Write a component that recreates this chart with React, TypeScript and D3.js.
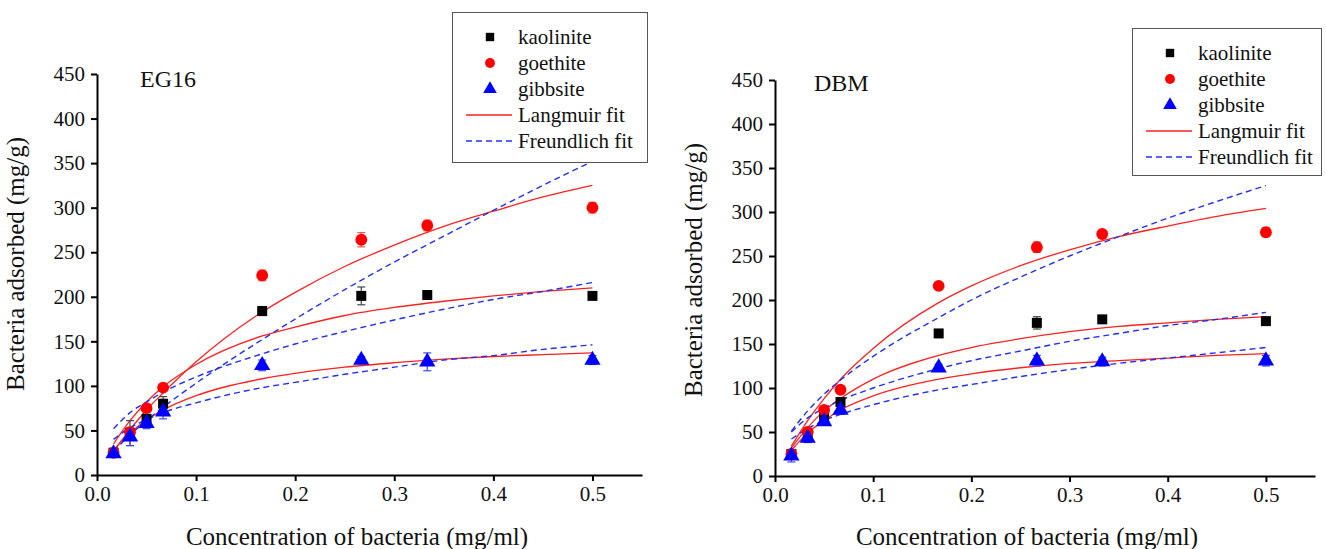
import { useEffect, useRef } from 'react';
import * as d3 from 'd3';

// measured concentrations (mg/ml) and the grid the fitted curves were read on
const conc = [0.0167, 0.0333, 0.05, 0.0667, 0.1667, 0.2667, 0.3333, 0.5];
const fitConc = [0.0167, 0.0333, 0.05, 0.0667, 0.1, 0.1667, 0.2, 0.25, 0.3, 0.35, 0.4, 0.45, 0.5];
const yTicks = [0, 50, 100, 150, 200, 250, 300, 350, 400, 450];
const xTicks = [0, 0.1, 0.2, 0.3, 0.4, 0.5];
const minerals = ['kaolinite', 'goethite', 'gibbsite'];
const fitNames = ['Langmuir fit', 'Freundlich fit'];

// EG16
const eg16Kaolinite = [25, 47, 63, 80, 184, 201, 202, 201];
const eg16KaoliniteErr = [3, 14, 5, 8, 5, 10, 3, 3];
const eg16Goethite = [25, 48, 75, 98, 224, 264, 280, 300];
const eg16GoethiteErr = [3, 4, 4, 4, 6, 8, 6, 6];
const eg16Gibbsite = [24, 43, 58, 71, 123, 129, 127, 129];
const eg16GibbsiteErr = [4, 10, 6, 8, 6, 4, 10, 5];
const eg16LangKaolinite = [35, 61, 82, 99, 124, 156, 166, 179, 188, 195, 201, 206, 210];
const eg16LangGoethite = [27, 51, 73, 92, 127, 183, 205, 234, 258, 279, 296, 312, 325];
const eg16LangGibbsite = [28, 47, 62, 73, 89, 108, 114, 121, 126, 130, 133, 135, 137];
const eg16FreuKaolinite = [52, 70, 82, 93, 110, 136, 147, 161, 174, 186, 197, 206, 216];
const eg16FreuGoethite = [26, 45, 61, 76, 103, 152, 175, 208, 239, 268, 297, 325, 352];
const eg16FreuGibbsite = [40, 53, 62, 70, 81, 98, 104, 113, 121, 129, 134, 141, 146];

// DBM
const dbmKaolinite = [25, 45, 66, 84, 162, 174, 178, 176];
const dbmKaoliniteErr = [3, 3, 4, 5, 3, 7, 3, 3];
const dbmGoethite = [25, 50, 75, 98, 216, 260, 275, 277];
const dbmGoethiteErr = [3, 3, 4, 4, 3, 6, 3, 5];
const dbmGibbsite = [23, 43, 62, 75, 123, 131, 130, 131];
const dbmGibbsiteErr = [7, 5, 4, 5, 4, 6, 5, 6];
const dbmLangKaolinite = [32, 55, 74, 88, 110, 137, 146, 156, 164, 170, 174, 178, 181];
const dbmLangGoethite = [34, 63, 88, 110, 145, 197, 216, 239, 257, 272, 284, 295, 304];
const dbmLangGibbsite = [29, 49, 63, 75, 91, 110, 116, 123, 128, 131, 134, 137, 139];
const dbmFreuKaolinite = [50, 66, 77, 86, 100, 122, 131, 142, 153, 162, 171, 178, 186];
const dbmFreuGoethite = [51, 74, 93, 109, 136, 180, 200, 226, 250, 272, 293, 312, 330];
const dbmFreuGibbsite = [42, 54, 63, 70, 81, 98, 104, 113, 121, 128, 134, 140, 146];

const FONT = '"Liberation Serif", "Times New Roman", Times, serif';
const markerColor = ['#000000', '#ff0000', '#0000ff'];
const errColor = ['#444444', '#ff5555', '#4444ff'];
const symbols = [d3.symbolSquare, d3.symbolCircle, d3.symbolTriangle];
const symbolSize = [100, 110, 115];

type PanelSpec = {
  label: string;
  left: number;
  right: number;
  top: number;
  bottom: number;
  labelX: number;
  labelY: number;
  titleX: number;
  titleY: number;
  legend: { x: number; y: number; w: number; h: number };
  points: number[][];
  errors: number[][];
  lang: number[][];
  freu: number[][];
};

const panels: PanelSpec[] = [
  {
    label: 'EG16', left: 97, right: 642, top: 74, bottom: 475, labelX: 140, labelY: 87,
    titleX: 357, titleY: 264,
    legend: { x: 452, y: 12, w: 195, h: 150 },
    points: [eg16Kaolinite, eg16Goethite, eg16Gibbsite],
    errors: [eg16KaoliniteErr, eg16GoethiteErr, eg16GibbsiteErr],
    lang: [eg16LangKaolinite, eg16LangGoethite, eg16LangGibbsite],
    freu: [eg16FreuKaolinite, eg16FreuGoethite, eg16FreuGibbsite],
  },
  {
    label: 'DBM', left: 775, right: 1315, top: 80, bottom: 476, labelX: 814, labelY: 91,
    titleX: 1027, titleY: 270,
    legend: { x: 1132, y: 28, w: 189, h: 147 },
    points: [dbmKaolinite, dbmGoethite, dbmGibbsite],
    errors: [dbmKaoliniteErr, dbmGoethiteErr, dbmGibbsiteErr],
    lang: [dbmLangKaolinite, dbmLangGoethite, dbmLangGibbsite],
    freu: [dbmFreuKaolinite, dbmFreuGoethite, dbmFreuGibbsite],
  },
];

function drawPanel(svg: d3.Selection<SVGSVGElement, unknown, null, undefined>, p: PanelSpec) {
  const x = d3.scaleLinear().domain([0, 0.55]).range([p.left, p.right]);
  const y = d3.scaleLinear().domain([0, 450]).range([p.bottom, p.top]);
  const g = svg.append('g');

  // axes
  const ya = g.append('g')
    .attr('transform', 'translate(' + p.left + ',0)')
    .call(d3.axisLeft(y).tickValues(yTicks).tickSize(6).tickSizeOuter(0).tickPadding(6).tickFormat(d3.format('d')));
  const xa = g.append('g')
    .attr('transform', 'translate(0,' + p.bottom + ')')
    .call(d3.axisBottom(x).tickValues(xTicks).tickSize(6).tickSizeOuter(0).tickPadding(5).tickFormat(d3.format('.1f')));
  [ya, xa].forEach(function (a) {
    a.attr('font-family', null).attr('font-size', null);
    a.style('font-family', FONT).style('font-size', '21px');
    a.select('.domain').attr('stroke-width', 2);
    a.selectAll('.tick line').attr('stroke-width', 2);
    a.selectAll('text').attr('fill', '#111');
  });

  // fitted curves
  const line = d3.line<number>()
    .x(function (_d, i) { return x(fitConc[i]); })
    .y(function (d) { return y(d); })
    .curve(d3.curveMonotoneX);
  p.lang.forEach(function (s) {
    g.append('path').attr('d', line(s)).attr('fill', 'none').attr('stroke', '#ff2020').attr('stroke-width', 1.3);
  });
  p.freu.forEach(function (s) {
    g.append('path').attr('d', line(s)).attr('fill', 'none').attr('stroke', '#2030ee')
      .attr('stroke-width', 1.4).attr('stroke-dasharray', '6,4');
  });

  // error bars and markers
  p.points.forEach(function (vals, k) {
    vals.forEach(function (v, i) {
      const cx = x(conc[i]);
      const e = p.errors[k][i];
      const eg = g.append('g').attr('stroke', errColor[k]).attr('stroke-width', 1.2);
      eg.append('line').attr('x1', cx).attr('x2', cx).attr('y1', y(v - e)).attr('y2', y(v + e));
      eg.append('line').attr('x1', cx - 4).attr('x2', cx + 4).attr('y1', y(v - e)).attr('y2', y(v - e));
      eg.append('line').attr('x1', cx - 4).attr('x2', cx + 4).attr('y1', y(v + e)).attr('y2', y(v + e));
    });
  });
  p.points.forEach(function (vals, k) {
    g.selectAll(null).data(vals).join('path')
      .attr('d', d3.symbol().type(symbols[k]).size(symbolSize[k]))
      .attr('transform', function (d, i) { return 'translate(' + x(conc[i]) + ',' + y(d) + ')'; })
      .attr('fill', markerColor[k]);
  });

  // labels
  const tg = g.append('g').style('font-family', FONT).attr('fill', '#111');
  tg.append('text').attr('x', p.labelX).attr('y', p.labelY).text(p.label).style('font-size', '24px');
  tg.append('text').attr('x', p.titleX).attr('y', 545)
    .attr('text-anchor', 'middle').text('Concentration of bacteria (mg/ml)').style('font-size', '25px');
  tg.append('text').attr('transform', 'translate(' + (p.left - 73) + ',' + p.titleY + ') rotate(-90)')
    .attr('text-anchor', 'middle').text('Bacteria adsorbed (mg/g)').style('font-size', '25px');

  // legend
  const L = p.legend;
  const lg = g.append('g').attr('transform', 'translate(' + L.x + ',' + L.y + ')')
    .style('font-family', FONT).style('font-size', '21px');
  lg.append('rect').attr('x', 0.5).attr('y', 0.5).attr('width', L.w).attr('height', L.h)
    .attr('fill', 'white').attr('stroke', '#555').attr('stroke-width', 1);
  minerals.forEach(function (m, k) {
    const ly = 25 + k * 26;
    lg.append('path').attr('d', d3.symbol().type(symbols[k]).size(symbolSize[k] * 0.7)())
      .attr('transform', 'translate(38,' + ly + ')').attr('fill', markerColor[k]);
    lg.append('text').attr('x', 66).attr('y', ly).attr('dy', '0.35em').text(m).attr('fill', '#111');
  });
  fitNames.forEach(function (f, j) {
    const ly = 25 + (3 + j) * 26;
    lg.append('line').attr('x1', 14).attr('x2', 60).attr('y1', ly).attr('y2', ly)
      .attr('stroke', j === 0 ? '#ff2020' : '#2030ee').attr('stroke-width', 1.3)
      .attr('stroke-dasharray', j === 0 ? null : '6,4');
    lg.append('text').attr('x', 66).attr('y', ly).attr('dy', '0.35em').text(f).attr('fill', '#111');
  });
}

export default function App() {
  const ref = useRef<SVGSVGElement>(null);

  useEffect(() => {
    const svg = d3.select(ref.current as SVGSVGElement);
    svg.selectAll('*').remove();
    panels.forEach(function (p) { drawPanel(svg, p); });
  }, []);

  return (
    <svg
      ref={ref}
      width={1326}
      height={549}
      style={{ position: 'fixed', left: 0, top: 0, background: 'white', display: 'block', fontFamily: FONT }}
    />
  );
}
